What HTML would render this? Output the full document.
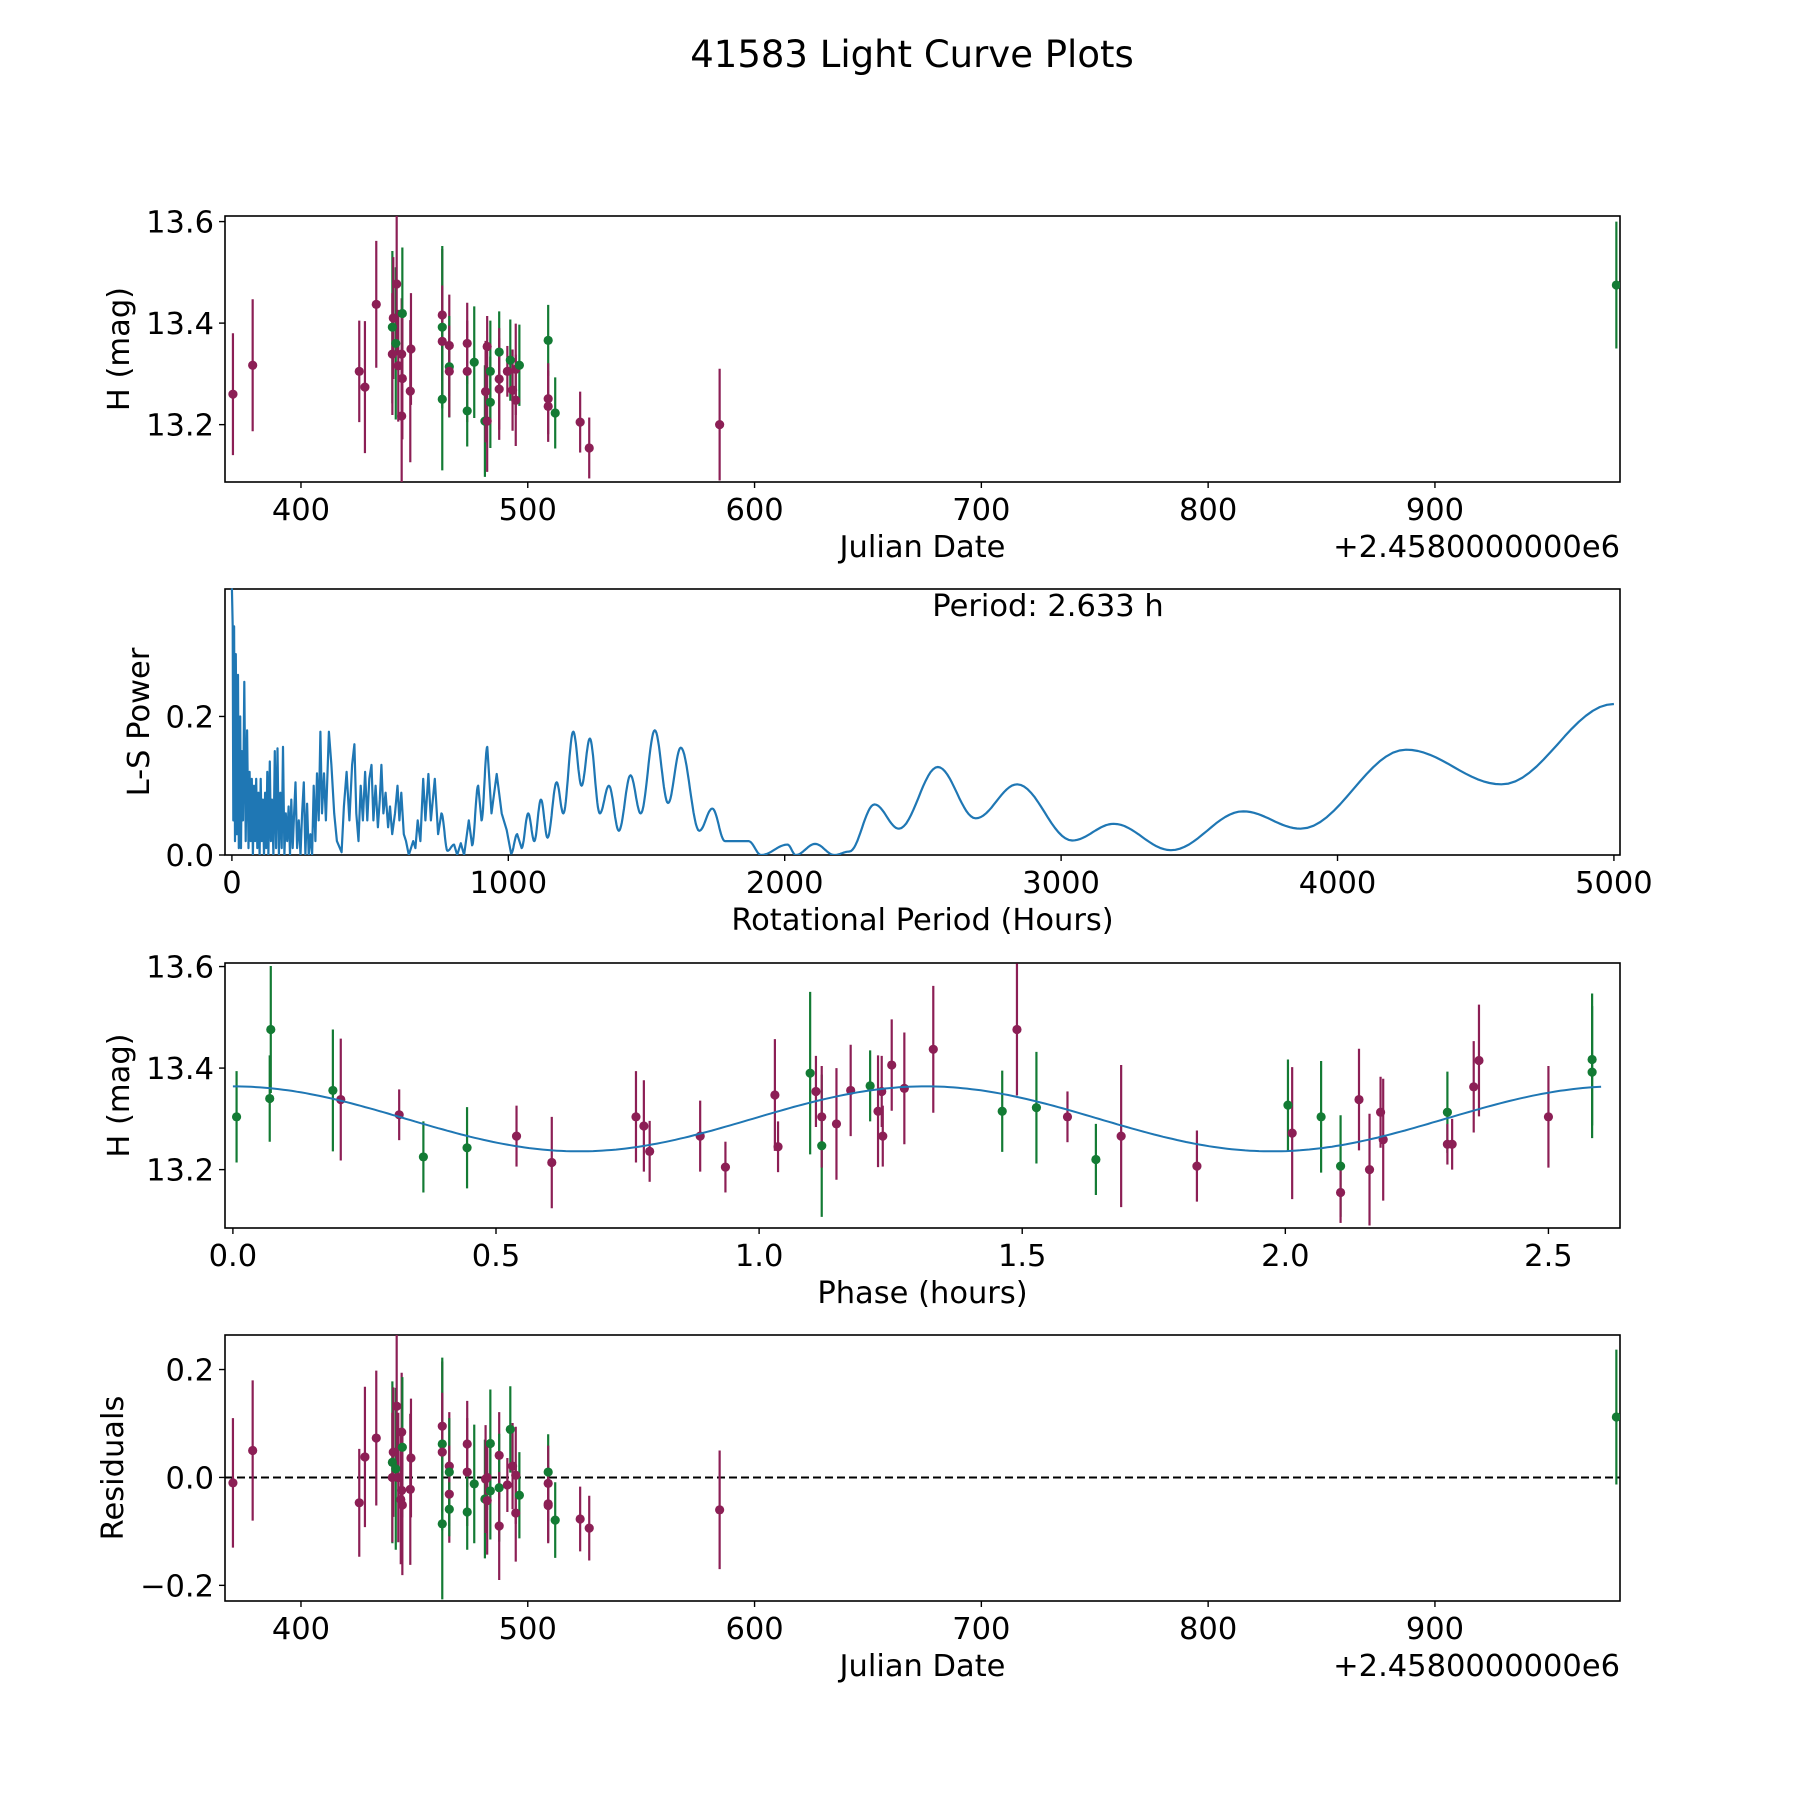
<!DOCTYPE html>
<html><head><meta charset="utf-8"><style>
body{margin:0;background:#fff}
svg{display:block;font-family:"DejaVu Sans","Liberation Sans",sans-serif}
</style></head><body>
<svg id="fig" width="1800" height="1800" viewBox="0 0 1800 1800" xmlns="http://www.w3.org/2000/svg">
<rect width="1800" height="1800" fill="#fff"/>
<text x="912" y="67" font-size="37" text-anchor="middle">41583 Light Curve Plots</text>
</svg>
<script>
// Panel 1: observations [date-2458000, mag, err, filter]
const obsDates=[370,378.7,425.7,428.2,433.2,440.3,440.7,441.8,440.3,442.2,442.9,444.4,444.7,444.7,444.4,448.5,448.2,462.3,462.3,462.3,462.3,465.4,465.4,465.4,473.3,473.3,473.3,476.4,481.1,481.4,482.1,482.1,483.5,483.5,487.4,487.4,487.4,491.0,492.3,493.3,494.7,494.7,496.3,509.0,509.0,509.0,512.1,523.1,527.1,584.6,980];
const obsMags=[13.26,13.317,13.305,13.274,13.437,13.392,13.41,13.36,13.339,13.477,13.316,13.339,13.419,13.291,13.217,13.349,13.266,13.416,13.392,13.364,13.250,13.356,13.314,13.305,13.36,13.305,13.227,13.323,13.207,13.265,13.354,13.207,13.305,13.244,13.343,13.290,13.270,13.305,13.327,13.268,13.309,13.248,13.317,13.366,13.251,13.236,13.223,13.205,13.154,13.2,13.475];
const obsErrs=[0.12,0.13,0.1,0.13,0.125,0.15,0.12,0.15,0.12,0.14,0.11,0.11,0.13,0.12,0.13,0.11,0.14,0.13,0.16,0.11,0.14,0.1,0.1,0.09,0.08,0.1,0.07,0.11,0.11,0.1,0.06,0.1,0.1,0.09,0.08,0.1,0.1,0.05,0.08,0.08,0.09,0.09,0.08,0.07,0.07,0.07,0.07,0.06,0.06,0.11,0.125];
const obsFilters=["m","m","m","m","m","g","m","g","m","m","m","m","g","m","m","m","m","m","g","m","g","m","g","m","m","m","g","g","g","m","m","m","g","g","g","m","m","m","g","m","m","m","g","g","m","m","g","m","m","m","g"];
// Panel 4: residuals
const resDates=[370,378.7,425.7,428.2,433.2,440.3,440.7,441.8,440.3,442.9,442.2,444.4,444.7,444.4,444.0,444.7,448.5,448.2,462.3,462.3,462.3,462.3,465.4,465.4,465.4,465.4,473.3,473.3,473.3,476.4,481.1,481.4,482.1,482.1,483.5,483.5,487.4,487.4,487.4,491.0,492.3,493.3,494.7,494.7,496.3,509.0,509.0,509.0,509.0,512.1,523.1,527.1,584.6,980];
const resVals=[-0.01,0.05,-0.047,0.038,0.073,0.028,0.047,0.016,0.0,0.0,0.132,0.084,0.056,-0.024,-0.041,-0.051,0.036,-0.022,0.095,0.062,0.047,-0.086,0.021,0.01,-0.031,-0.059,0.062,0.01,-0.064,-0.012,-0.040,-0.003,0.0,-0.043,0.063,-0.025,0.041,-0.019,-0.09,-0.014,0.089,0.021,0.004,-0.066,-0.033,0.01,-0.011,-0.049,-0.052,-0.079,-0.077,-0.094,-0.06,0.112];
const resErrs=[0.12,0.13,0.1,0.13,0.125,0.15,0.12,0.15,0.12,0.12,0.14,0.11,0.13,0.11,0.12,0.13,0.11,0.14,0.12,0.16,0.11,0.14,0.1,0.1,0.09,0.05,0.08,0.1,0.07,0.11,0.11,0.1,0.06,0.1,0.1,0.09,0.08,0.1,0.1,0.05,0.08,0.08,0.09,0.09,0.08,0.07,0.07,0.07,0.07,0.07,0.06,0.06,0.11,0.125];
const resFilters=["m","m","m","m","m","g","m","g","m","m","m","m","g","m","m","m","m","m","m","g","m","g","m","g","m","g","m","m","g","g","g","m","m","m","g","g","m","g","m","m","g","m","m","m","g","g","m","m","m","g","m","m","m","g"];
// Panel 3: phased
const phases=[0.007,0.070,0.072,0.19,0.205,0.316,0.362,0.445,0.539,0.606,0.766,0.781,0.792,0.888,0.936,1.030,1.036,1.097,1.108,1.119,1.119,1.147,1.174,1.211,1.226,1.233,1.235,1.252,1.276,1.331,1.462,1.49,1.527,1.586,1.640,1.688,1.832,2.005,2.013,2.068,2.105,2.105,2.14,2.16,2.181,2.186,2.308,2.308,2.317,2.358,2.368,2.5,2.583,2.583];
const phaseMags=[13.304,13.340,13.476,13.356,13.338,13.308,13.225,13.243,13.266,13.214,13.304,13.286,13.236,13.266,13.205,13.347,13.245,13.39,13.354,13.247,13.304,13.29,13.356,13.365,13.315,13.354,13.266,13.406,13.36,13.437,13.315,13.476,13.322,13.304,13.22,13.266,13.207,13.327,13.272,13.304,13.207,13.155,13.338,13.2,13.313,13.259,13.313,13.25,13.25,13.363,13.415,13.304,13.392,13.417];
const phaseErrs=[0.09,0.085,0.125,0.12,0.12,0.05,0.07,0.08,0.06,0.09,0.09,0.09,0.06,0.07,0.05,0.11,0.05,0.16,0.07,0.14,0.1,0.11,0.09,0.07,0.11,0.07,0.06,0.09,0.11,0.125,0.08,0.13,0.11,0.05,0.07,0.14,0.07,0.09,0.13,0.11,0.1,0.06,0.1,0.11,0.07,0.12,0.08,0.04,0.05,0.09,0.11,0.1,0.13,0.13];
const phaseFilters=["g","g","g","g","m","m","g","g","m","m","m","m","m","m","m","m","m","g","m","g","m","m","m","g","m","m","m","m","m","m","g","m","g","m","g","m","m","g","m","g","g","m","m","m","m","m","g","m","m","m","m","m","g","g"];
const fitMean=13.300, fitAmp=0.064, fitPeriod=1.3165, fitPhase0=0.0;
// Panel 2: periodogram (period hours, power) - rows aligned 10 per line
const lsPeriods=[
0,3,5,8,11,14,18,22,25,30,
33,36,40,45,50,55,60,64,68,72,
76,80,84,88,92,96,100,104,108,112,
116,120,124,128,132,137,141,145,150,155,
160,165,170,175,180,185,190,195,200,205,
210,215,220,225,230,236,242,248,254,260,
266,272,278,284,290,296,302,308,314,320,
326,333,340,351,360,370,380,397,405,415,
425,435,443,450,458,466,474,482,490,497,
505,512,520,528,535,541,548,556,565,572,
580,590,599,606,613,622,630,640,648,656,
664,672,682,692,700,711,720,734,746,758,
780,804,815,828,840,857,869,891,903,924,
939,958,976,994,1010,1032,1048,1072,1094,1118,
1142,1175,1199,1235,1265,1295,1331,1364,1400,1442,
1479,1530,1578,1624,1691,1738,1784,1869,1915,2010,
2040,2110,2180,2234,2325,2413,2554,2691,2841,3040,
3190,3397,3659,3866,4248,4593,5000];
const lsPowers=[
0.385,0.33,0.05,0.33,0.02,0.29,0.03,0.26,0.01,0.2,
0.01,0.15,0.05,0.25,0.02,0.18,0.01,0.12,0.02,0.11,
0.0,0.1,0.02,0.11,0.01,0.09,0.0,0.11,0.02,0.08,
0.0,0.09,0.01,0.12,0.0,0.135,0.02,0.08,0.0,0.15,
0.01,0.154,0.0,0.09,0.01,0.156,0.0,0.06,0.02,0.07,
0.0,0.08,0.01,0.06,0.105,0.01,0.05,0.0,0.06,0.105,
0.0,0.074,0.0,0.03,0.0,0.1,0.02,0.118,0.05,0.178,
0.06,0.118,0.05,0.178,0.13,0.06,0.02,0.004,0.07,0.12,
0.05,0.13,0.16,0.06,0.02,0.1,0.05,0.12,0.05,0.11,
0.13,0.05,0.1,0.04,0.08,0.13,0.06,0.09,0.04,0.07,
0.03,0.06,0.1,0.05,0.09,0.03,0.02,0.0,0.01,0.02,
0.01,0.05,0.02,0.11,0.05,0.117,0.05,0.11,0.03,0.06,
0.006,0.015,0.0,0.017,0.0,0.05,0.014,0.1,0.05,0.156,
0.06,0.117,0.06,0.036,0.002,0.03,0.01,0.06,0.02,0.08,
0.025,0.105,0.06,0.178,0.1,0.168,0.06,0.1,0.035,0.115,
0.06,0.18,0.075,0.155,0.035,0.067,0.02,0.02,0.0,0.015,
0.0,0.016,0.0,0.005,0.073,0.038,0.127,0.053,0.102,0.021,
0.045,0.007,0.063,0.038,0.152,0.102,0.218];
</script>
<script>
const NS="http://www.w3.org/2000/svg";
const svg=document.getElementById('fig');
const COL={m:"#8c1f55",g:"#137b34"};
const L=225,R=1620,FS=30.5;
function el(tag,attrs,parent){const e=document.createElementNS(NS,tag);for(const k in attrs)e.setAttribute(k,attrs[k]);(parent||svg).appendChild(e);return e;}
function txt(s,attrs,parent){const e=el('text',attrs,parent);e.textContent=s;return e;}
function makeAxes(name,top,bot,xmin,xmax,ymin,ymax){
  const g=el('g',{});
  
  
  const sx=v=>L+(v-xmin)/(xmax-xmin)*(R-L);
  const sy=v=>bot-(v-ymin)/(ymax-ymin)*(bot-top);
  return {g,sx,sy,top,bot};
}
function frame(a,xticks,xlabels,yticks,ylabels,xtitle,ytitle,ytx){
  const f=el('rect',{x:L,y:a.top,width:R-L,height:a.bot-a.top,fill:'none',stroke:'#000','stroke-width':1.6},a.g);
  
  
  xticks.forEach((v,i)=>{const x=a.sx(v);
    el('line',{x1:x,x2:x,y1:a.bot,y2:a.bot+6,stroke:'#000','stroke-width':1.4},a.g);
    const t=txt(xlabels[i],{x:x,y:a.bot+38,'font-size':FS,'text-anchor':'middle'},a.g);
    
    });
  yticks.forEach((v,i)=>{const y=a.sy(v);
    el('line',{x1:L-6,x2:L,y1:y,y2:y,stroke:'#000','stroke-width':1.4},a.g);
    const t=txt(ylabels[i],{x:L-11,y:y+11,'font-size':FS,'text-anchor':'end'},a.g);
    
    });
  const xt=txt(xtitle,{x:(L+R)/2,y:a.bot+75,'font-size':FS,'text-anchor':'middle'},a.g);
  
  
  const cy=(a.top+a.bot)/2;
  const yt=txt(ytitle,{x:ytx,y:cy,'font-size':FS,'text-anchor':'middle',transform:`rotate(-90 ${ytx} ${cy})`},a.g);
  
  
}
function errPoints(a,xs,ys,es,fs,name){
  const clipId='c'+name;
  const cp=el('clipPath',{id:clipId},a.g);
  el('rect',{x:L,y:a.top,width:R-L,height:a.bot-a.top},cp);
  const gg=el('g',{'clip-path':`url(#${clipId})`},a.g);
  xs.forEach((v,i)=>{const x=a.sx(v),c=COL[fs[i]];
    const ln=el('line',{x1:x,x2:x,y1:a.sy(ys[i]+es[i]),y2:a.sy(ys[i]-es[i]),stroke:c,'stroke-width':2.2},gg);
    
    });
  xs.forEach((v,i)=>{
    const p=el('circle',{cx:a.sx(v),cy:a.sy(ys[i]),r:4.6,fill:COL[fs[i]]},gg);
    
    });
  return gg;
}
const dTicks=[400,500,600,700,800,900];
const dLab=dTicks.map(String);
// Panel 1
const a1=makeAxes('light-curve-panel',216,482,366.5,981.6,13.087,13.611);
frame(a1,dTicks,dLab,[13.2,13.4,13.6],['13.2','13.4','13.6'],'Julian Date','H (mag)',129);
errPoints(a1,obsDates,obsMags,obsErrs,obsFilters,'1');
let o1=txt('+2.4580000000e6',{x:R,y:557,'font-size':FS,'text-anchor':'end'},a1.g);


// Panel 2
const a2=makeAxes('periodogram-panel',589,855,-25,5022,0,0.384);
frame(a2,[0,1000,2000,3000,4000,5000],['0','1000','2000','3000','4000','5000'],[0,0.2],['0.0','0.2'],'Rotational Period (Hours)','L-S Power',149);
{
  const cp=el('clipPath',{id:'c2'},a2.g);el('rect',{x:L,y:a2.top-2,width:R-L,height:a2.bot-a2.top+2},cp);
  const n0=Math.min(lsPeriods.length,lsPowers.length);
  let d='';
  for(let i=0;i<n0;i++){
    if(i===0){d+=`M${a2.sx(lsPeriods[0])},${a2.sy(lsPowers[0])}`;continue;}
    const x0=lsPeriods[i-1],x1=lsPeriods[i],y0=lsPowers[i-1],y1=lsPowers[i];
    const n=x1-x0>20?16:1;
    for(let k=1;k<=n;k++){const t=k/n,s=(1-Math.cos(Math.PI*t))/2;
      d+=`L${a2.sx(x0+(x1-x0)*t).toFixed(1)},${a2.sy(y0+(y1-y0)*s).toFixed(1)}`;}
  }
  const p=el('path',{d:d,fill:'none',stroke:'#1f77b4','stroke-width':2.2,'stroke-linejoin':'round','clip-path':'url(#c2)'},a2.g);
  
  
  const pt=txt('Period: 2.633 h',{x:1048,y:616,'font-size':FS,'text-anchor':'middle'},a2.g);
  
  
}
// Panel 3
const a3=makeAxes('phased-curve-panel',963,1228,-0.015,2.636,13.085,13.607);
frame(a3,[0,0.5,1,1.5,2,2.5],['0.0','0.5','1.0','1.5','2.0','2.5'],[13.2,13.4,13.6],['13.2','13.4','13.6'],'Phase (hours)','H (mag)',129);
errPoints(a3,phases,phaseMags,phaseErrs,phaseFilters,'3');
{
  let d='';
  for(let i=0;i<=300;i++){const ph=2.6*i/300;const m=fitMean+fitAmp*Math.cos(2*Math.PI*(ph-fitPhase0)/fitPeriod);
    d+=(i?'L':'M')+a3.sx(ph).toFixed(1)+','+a3.sy(m).toFixed(1);}
  const p=el('path',{d:d,fill:'none',stroke:'#1f77b4','stroke-width':2},a3.g);
  
  
}
// Panel 4
const a4=makeAxes('residuals-panel',1335,1601,366.5,981.6,-0.229,0.264);
frame(a4,dTicks,dLab,[-0.2,0,0.2],['\u22120.2','0.0','0.2'],'Julian Date','Residuals',123);
{
  const z=el('line',{x1:L,x2:R,y1:a4.sy(0),y2:a4.sy(0),stroke:'#000','stroke-width':2,'stroke-dasharray':'8,4'},a4.g);
  
  
}
errPoints(a4,resDates,resVals,resErrs,resFilters,'4');
let o4=txt('+2.4580000000e6',{x:R,y:1676,'font-size':FS,'text-anchor':'end'},a4.g);


</script>
</body></html>
